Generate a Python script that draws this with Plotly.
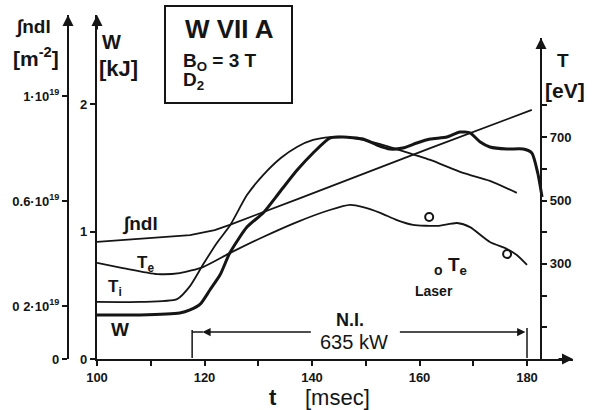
import plotly.graph_objects as go

# ---------------- data ----------------
t_ndl = [100, 108, 117.3, 121.9, 124.7, 137.8, 162.0, 180.9]
ndl = [0.445, 0.456, 0.471, 0.490, 0.510, 0.612, 0.802, 0.947]          # 1e19 m^-2

t_te = [100, 104.8, 111.2, 115.4, 119.7, 124.7, 130.9, 137.2, 143.3, 147.1, 149.5,
        152.7, 155.8, 158.8, 163.3, 167.0, 169.4, 173.1, 176.3, 178.1, 180.0]
te = [303, 287, 268, 271, 290, 334, 385, 432, 470, 486, 479,
      461, 438, 423, 420, 429, 416, 369, 347, 328, 297]                   # eV

t_ti = [100, 108, 114.9, 117.3, 119.7, 122.3, 124.7, 127.9, 130.9, 134.2, 137.2,
        140.2, 143.3, 146.5, 149.5, 152.7, 155.8, 162.0, 168.1, 173.1, 178.1]
ti = [180, 180, 189, 230, 297, 366, 420, 517, 580, 634, 669,
      691, 700, 700, 691, 678, 662, 628, 587, 562, 524]                   # eV

t_w = [100, 108, 115.4, 117.3, 119.2, 121.0, 122.9, 124.7, 127.9, 130.9, 134.0,
       137.2, 140.2, 143.3, 145.8, 149.5, 152.1, 154.5, 156.9, 159.5, 162.0,
       165.1, 167.5, 169.4, 171.3, 173.1, 176.3, 179.3, 180.9, 182.0, 182.8]
w = [0.345, 0.345, 0.361, 0.385, 0.430, 0.541, 0.660, 0.831, 1.035, 1.145, 1.310,
     1.480, 1.616, 1.733, 1.741, 1.725, 1.678, 1.647, 1.655, 1.694, 1.725,
     1.741, 1.780, 1.773, 1.702, 1.663, 1.647, 1.647, 1.616, 1.459, 1.271]  # kJ

t_laser = [161.8, 176.3]
te_laser = [448, 331]                                                     # eV

ni_start, ni_end = 117.7, 180.0
ni_text = ["N.I.", "635 kW"]

x_ticks = [100, 110, 120, 130, 140, 150, 160, 170, 180]
x_ticklabels = ["100", "", "120", "", "140", "", "160", "", "180"]
w_ticks = [0, 1, 2]
w_ticklabels = ["0", "1", "2"]
ndl_ticks = [0, 0.2, 0.6, 1.0]
ndl_ticklabels = ["0", "0 2·10<sup>19</sup>", "0.6·10<sup>19</sup>", "1·10<sup>19</sup>"]
t_ticks = [100, 200, 300, 400, 500, 600, 700, 800]
t_ticklabels = ["", "", "300", "", "500", "", "700", ""]

# ---------------- geometry helpers (pixel -> paper) ----------------
W_PX, H_PX = 597, 410
ML, MR, MT, MB = 68, 24, 15, 51
PW = W_PX - ML - MR
PH = H_PX - MT - MB


def PX(x):
    return (x - ML) / PW


def PY(y):
    return (H_PX - MB - y) / PH


INK = "#151515"
FONT = "Liberation Sans, Arial, sans-serif"

fig = go.Figure()

fig.add_trace(go.Scatter(x=t_ndl, y=ndl, mode="lines", yaxis="y2",
                         line=dict(color=INK, width=1.8)))
fig.add_trace(go.Scatter(x=t_te, y=te, mode="lines", yaxis="y3",
                         line=dict(color=INK, width=1.8, shape="spline", smoothing=0.6)))
fig.add_trace(go.Scatter(x=t_ti, y=ti, mode="lines", yaxis="y3",
                         line=dict(color=INK, width=1.8, shape="spline", smoothing=0.6)))
fig.add_trace(go.Scatter(x=t_w, y=w, mode="lines", yaxis="y",
                         line=dict(color=INK, width=3, shape="spline", smoothing=0.6)))
fig.add_trace(go.Scatter(x=t_laser, y=te_laser, mode="markers", yaxis="y3",
                         marker=dict(symbol="circle-open", size=8, color=INK,
                                     line=dict(width=2, color=INK))))

axis_common = dict(showline=True, linecolor=INK, linewidth=2.2, showgrid=False,
                   zeroline=False, ticks="outside", tickcolor=INK, tickwidth=1.5,
                   ticklen=5, tickfont=dict(family=FONT, size=13, color=INK, weight="bold"))

fig.update_layout(
    width=W_PX, height=H_PX,
    margin=dict(l=ML, r=MR, t=MT, b=MB),
    paper_bgcolor="white", plot_bgcolor="rgba(0,0,0,0)",
    showlegend=False,
    xaxis=dict(domain=[PX(97), 1], range=[100, 100 + (573 - 97) / 5.375],
               tickmode="array", tickvals=x_ticks, ticktext=x_ticklabels,
               anchor="y", **axis_common),
    yaxis=dict(domain=[0, 1], range=[0, 344 / 127.5], tickmode="array",
               tickvals=w_ticks, ticktext=w_ticklabels, anchor="x", side="left",
               **axis_common),
    yaxis2=dict(overlaying="y", anchor="free", position=0, side="left",
                range=[0, 344 / 263], tickmode="array", tickvals=ndl_ticks,
                ticktext=ndl_ticklabels, **axis_common),
    yaxis3=dict(anchor="free", position=PX(541), side="right",
                domain=[0, PY(38)], range=[0, (359 - 38) / 0.317],
                tickmode="array", tickvals=t_ticks, ticktext=t_ticklabels,
                **axis_common),
)

ann = []


def txt(x, y, s, size=14, xanchor="center", weight="bold"):
    ann.append(dict(x=PX(x), y=PY(y), xref="paper", yref="paper", text=s,
                    showarrow=False, xanchor=xanchor, yanchor="middle",
                    font=dict(family=FONT, size=size, color=INK, weight=weight)))


def arrowhead(x, y, ax, ay):
    ann.append(dict(x=PX(x), y=PY(y), xref="paper", yref="paper", text="",
                    showarrow=True, ax=ax, ay=ay, arrowhead=2, arrowsize=1.1,
                    arrowwidth=2, arrowcolor=INK))


# axis arrowheads
arrowhead(68, 15, 0, 16)
arrowhead(97, 15, 0, 16)
arrowhead(541, 38, 0, 16)
arrowhead(573, 359, -16, 0)

# axis titles
txt(33, 27, "∫ndl", 19)
txt(36, 57, "[m<sup>-2</sup>]", 21)
txt(111, 42, "W", 20)
txt(118, 69, "[kJ]", 22)
txt(563, 60, "T", 19)
txt(565, 90, "[eV]", 21)
txt(273, 397, "t", 22)
txt(337, 397, "[msec]", 22, weight="normal")

# curve labels
txt(140, 224, "∫ndl", 19)
txt(145, 264, "T<sub>e</sub>", 17)
txt(115, 288, "T<sub>i</sub>", 17)
txt(120, 329, "W", 19)
txt(438, 270, "o", 14)
txt(457, 266, "T<sub>e</sub>", 19)
txt(434, 291, "Laser", 14)

# box
txt(229, 29, "W VII A", 26)
txt(181, 62, "B<sub>O</sub> = 3 T", 19, xanchor="left")
txt(181, 81, "D<sub>2</sub>", 19, xanchor="left")

# N.I. labels
txt(350, 320, ni_text[0], 18)
txt(354, 342, ni_text[1], 20, weight="normal")

y_ni = PY(332)
# N.I. arrows (tail offset in pixels)
ann.append(dict(x=ni_start + 1.9, y=y_ni, xref="x", yref="paper",
                ax=110, ay=0, axref="pixel", ayref="pixel",
                text="", showarrow=True, arrowhead=2, arrowsize=1.1, arrowwidth=1.5,
                arrowcolor=INK))
ann.append(dict(x=ni_end - 0.3, y=y_ni, xref="x", yref="paper",
                ax=-127, ay=0, axref="pixel", ayref="pixel",
                text="", showarrow=True, arrowhead=2, arrowsize=1.1, arrowwidth=1.5,
                arrowcolor=INK))

shapes = [
    dict(type="rect", xref="paper", yref="paper", x0=PX(165), x1=PX(292),
         y0=PY(103), y1=PY(6), line=dict(color=INK, width=2)),
    dict(type="line", xref="x", yref="paper", x0=ni_start, x1=ni_start + 2,
         y0=y_ni, y1=y_ni, line=dict(color=INK, width=1.5)),
    dict(type="line", xref="x", yref="paper", x0=ni_start, x1=ni_start,
         y0=PY(330), y1=PY(358), line=dict(color=INK, width=1.5)),
    dict(type="line", xref="x", yref="paper", x0=ni_end, x1=ni_end,
         y0=PY(328), y1=PY(358), line=dict(color=INK, width=1.5)),
]

fig.update_layout(annotations=ann, shapes=shapes)

fig.write_html("out.html")
